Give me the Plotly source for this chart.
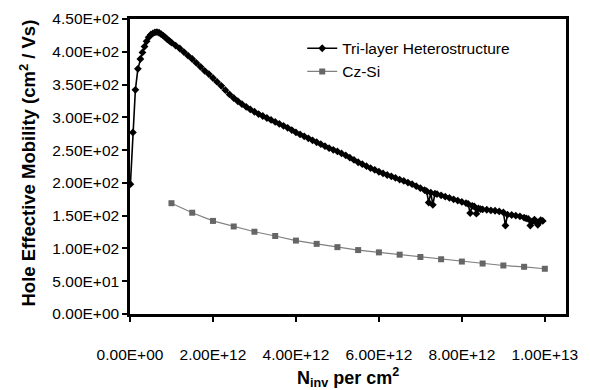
import plotly.graph_objects as go

# Tri-layer heterostructure (x in units of 1e12 cm^-2, mobility in cm^2/Vs)
tri_x = [0.01, 0.07, 0.13, 0.19, 0.25, 0.30, 0.35, 0.40, 0.45, 0.50, 0.55, 0.60, 0.65, 0.70,
         0.75, 0.80, 0.85, 0.90, 0.95, 1.0, 1.1, 1.2, 1.3, 1.4, 1.5, 1.6, 1.7, 1.8, 1.9, 2.0,
         2.1, 2.2, 2.3, 2.4, 2.5, 2.6, 2.7, 2.8, 2.9, 3.0, 3.1, 3.2, 3.3, 3.4, 3.5, 3.6, 3.7,
         3.8, 3.9, 4.0, 4.1, 4.2, 4.3, 4.4, 4.5, 4.6, 4.7, 4.8, 4.9, 5.0, 5.1, 5.2, 5.3, 5.4,
         5.5, 5.6, 5.7, 5.8, 5.9, 6.0, 6.1, 6.2, 6.3, 6.4, 6.5, 6.6, 6.7, 6.8, 6.9, 7.0, 7.1,
         7.15, 7.2, 7.25, 7.3, 7.35, 7.4, 7.5, 7.6, 7.7, 7.8, 7.9, 8.0, 8.1, 8.15, 8.2, 8.25,
         8.3, 8.35, 8.4, 8.45, 8.5, 8.6, 8.7, 8.8, 8.9, 9.0, 9.05, 9.1, 9.2, 9.3, 9.4, 9.5,
         9.55, 9.6, 9.65, 9.7, 9.75, 9.8, 9.83, 9.87, 9.9, 9.95]
tri_y = [198, 277, 342, 374, 389, 399, 408, 416, 422, 426, 428, 429.5, 430, 429,
         427, 424.5, 422, 419, 416.5, 414, 409.5, 405, 399.5, 394, 389, 383, 377, 371, 366, 360,
         354, 348, 341.5, 335, 329.5, 324.5, 320, 316, 312, 308.5, 305, 302, 299, 296, 293, 290, 287,
         284, 280.5, 277, 274, 271, 268, 265, 262, 259, 256, 253, 250.5, 248, 245, 242, 238.5, 235,
         231.5, 228.5, 225.5, 222.5, 220, 217, 214.5, 212, 210, 207.5, 205, 203, 200.5, 198, 195, 192, 189,
         187.5, 170, 185, 166.5, 183.5, 183, 181, 179, 177, 175, 173, 171, 169, 168, 154, 165,
         164, 153, 161, 160, 159.5, 159, 158, 157.5, 156.5, 155, 135, 151.5, 151, 150, 149, 147,
         146, 145, 135, 141, 144, 140, 136, 141, 143, 142]

# Cz-Si reference
cz_x = [1.0, 1.5, 2.0, 2.5, 3.0, 3.5, 4.0, 4.5, 5.0, 5.5, 6.0, 6.5, 7.0, 7.5, 8.0, 8.5, 9.0, 9.5, 10.0]
cz_y = [169, 154.5, 142, 133.5, 125.5, 119, 112, 107, 102, 97.5, 94, 90.5, 87, 83.5, 80, 77, 74, 72, 69]

x_tickvals = [0, 2e12, 4e12, 6e12, 8e12, 1e13]
x_ticktext = ["0.00E+00", "2.00E+12", "4.00E+12", "6.00E+12", "8.00E+12", "1.00E+13"]
y_tickvals = [0, 50, 100, 150, 200, 250, 300, 350, 400, 450]
y_ticktext = ["0.00E+00", "5.00E+01", "1.00E+02", "1.50E+02", "2.00E+02",
              "2.50E+02", "3.00E+02", "3.50E+02", "4.00E+02", "4.50E+02"]

FONT = "Liberation Sans, Arial, sans-serif"

fig = go.Figure()
fig.add_trace(go.Scatter(
    x=[v * 1e12 for v in tri_x], y=tri_y, mode="lines+markers",
    name="Tri-layer Heterostructure",
    line=dict(color="black", width=1.6),
    marker=dict(symbol="diamond", size=6, color="black"),
))
fig.add_trace(go.Scatter(
    x=[v * 1e12 for v in cz_x], y=cz_y, mode="lines+markers",
    name="Cz-Si",
    line=dict(color="#808080", width=1.2),
    marker=dict(symbol="square", size=6, color="#666666"),
))

fig.update_layout(
    width=590, height=390,
    margin=dict(l=129.5, r=24.3, t=19, b=75.7),
    paper_bgcolor="white", plot_bgcolor="white",
    font=dict(family=FONT, size=15.5, color="black"),
    showlegend=True,
    legend=dict(x=0.395, y=0.957, xanchor="left", yanchor="top",
                bgcolor="rgba(0,0,0,0)", borderwidth=0,
                font=dict(family=FONT, size=15.5), tracegroupgap=0),
    xaxis=dict(range=[0, 1.051e13], tickvals=x_tickvals, ticktext=x_ticktext,
               showgrid=False, zeroline=False, showline=True, linecolor="black",
               linewidth=2.5, mirror=True, ticks="outside", ticklen=5, tickwidth=1.5,
               tickcolor="black", ticklabelstandoff=20, automargin=False),
    yaxis=dict(range=[0, 450], tickvals=y_tickvals, ticktext=y_ticktext,
               showgrid=False, zeroline=False, showline=True, linecolor="black",
               linewidth=2.5, mirror=True, ticks="outside", ticklen=5, tickwidth=1.5,
               tickcolor="black", automargin=False),
    annotations=[
        dict(text="<b>Hole Effective Mobility (cm<sup>2</sup> / Vs)</b>", textangle=-90,
             xref="paper", yref="paper", x=-0.235, y=0.512, xanchor="center", yanchor="middle",
             showarrow=False, font=dict(family=FONT, size=18.5)),
        dict(text="<b>N<sub>inv</sub> per cm<sup>2</sup></b>",
             xref="paper", yref="paper", x=0.5, y=-0.216, xanchor="center", yanchor="middle",
             showarrow=False, font=dict(family=FONT, size=18)),
    ],
)

fig.write_html("out.html", config={"displayModeBar": False},
               post_script="document.body.style.margin='0';")
